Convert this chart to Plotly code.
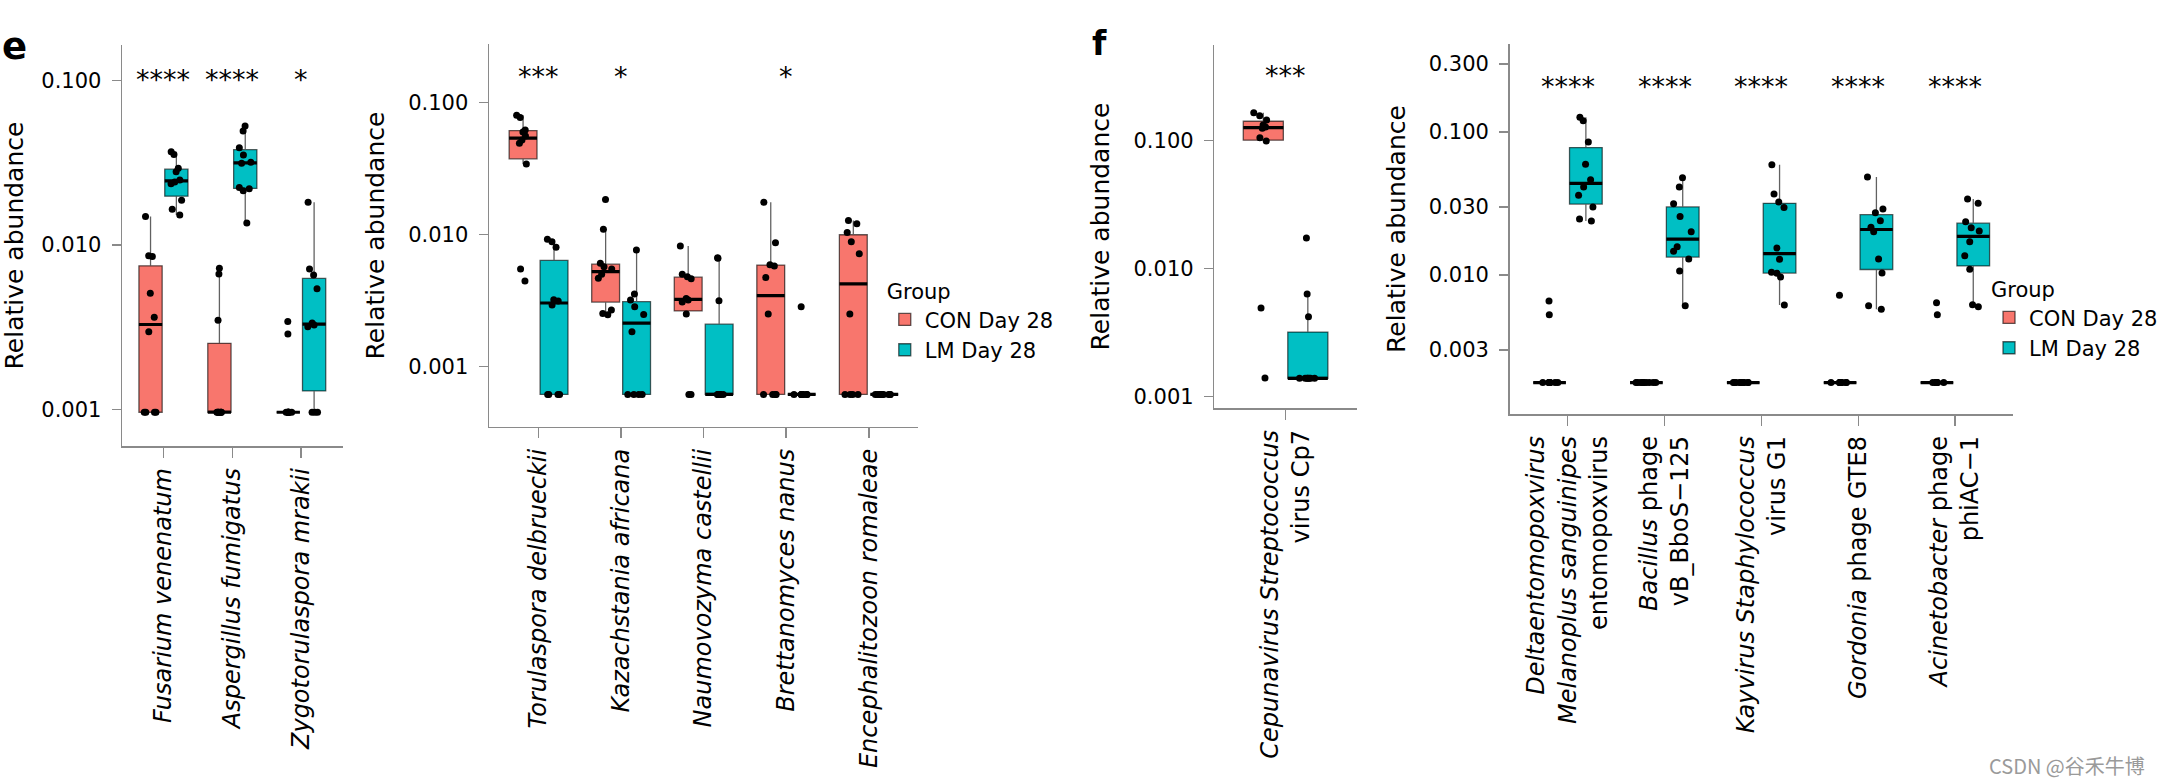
import numpy as np
import plotly.graph_objects as go

FONT = "DejaVu Sans"
CON_COLOR = "#F8766D"
LM_COLOR = "#00BFC4"
GROUPS = ["CON Day 28", "LM Day 28"]

# ---------------- data (relative abundance) ----------------
# panel e (left)
p1_keys = ["Fusarium venenatum", "Aspergillus fumigatus", "Zygotorulaspora mrakii"]
p1_labels = ["<i>Fusarium venenatum</i>", "<i>Aspergillus fumigatus</i>", "<i>Zygotorulaspora mrakii</i>"]
p1_con = [
    [0.00096, 0.00096, 0.00096, 0.00096, 0.00297, 0.00363, 0.00508, 0.0085, 0.0086, 0.0149],
    [0.00096, 0.00096, 0.00096, 0.00096, 0.00096, 0.00096, 0.00096, 0.00348, 0.00666, 0.00721],
    [0.00096, 0.00096, 0.00096, 0.00096, 0.00096, 0.00096, 0.00096, 0.00096, 0.00287, 0.00342],
]
p1_lm = [
    [0.0152, 0.0165, 0.0187, 0.0236, 0.0242, 0.0249, 0.0279, 0.0293, 0.0356, 0.0370],
    [0.0136, 0.0214, 0.0220, 0.0224, 0.0314, 0.0319, 0.0353, 0.0390, 0.0494, 0.0530],
    [0.00096, 0.00096, 0.00096, 0.00318, 0.00326, 0.00335, 0.00542, 0.00657, 0.00714, 0.0182],
]
p1_sig = ["****", "****", "*"]

# panel e (right)
p2_keys = ["Torulaspora delbrueckii", "Kazachstania africana", "Naumovozyma castellii",
           "Brettanomyces nanus", "Encephalitozoon romaleae"]
p2_labels = ["<i>Torulaspora delbrueckii</i>", "<i>Kazachstania africana</i>",
             "<i>Naumovozyma castellii</i>", "<i>Brettanomyces nanus</i>",
             "<i>Encephalitozoon romaleae</i>"]
p2_con = [
    [0.00446, 0.00549, 0.0343, 0.0492, 0.0521, 0.0559, 0.0599, 0.0621, 0.0774, 0.0802],
    [0.00248, 0.00253, 0.00269, 0.00467, 0.00501, 0.00549, 0.00572, 0.00607, 0.0110, 0.0185],
    [0.000617, 0.000617, 0.00251, 0.00309, 0.00320, 0.00328, 0.00464, 0.00481, 0.00501, 0.00821],
    [0.000617, 0.000617, 0.000617, 0.000617, 0.00251, 0.00475, 0.00580, 0.00592, 0.00870, 0.0176],
    [0.000617, 0.000617, 0.000617, 0.000617, 0.00251, 0.00718, 0.00885, 0.0104, 0.0121, 0.0128],
]
p2_lm = [
    [0.000617, 0.000617, 0.000617, 0.000617, 0.00293, 0.00315, 0.00322, 0.00802, 0.00885, 0.00922],
    [0.000617, 0.000617, 0.000617, 0.000617, 0.00184, 0.00249, 0.00285, 0.00320, 0.00355, 0.00765],
    [0.000617, 0.000617, 0.000617, 0.000617, 0.000617, 0.000617, 0.000617, 0.00316, 0.00662, 0.00669],
    [0.000617, 0.000617, 0.000617, 0.000617, 0.000617, 0.000617, 0.000617, 0.000617, 0.000617, 0.00285],
    [0.000617, 0.000617, 0.000617, 0.000617, 0.000617, 0.000617, 0.000617, 0.000617, 0.000617, 0.000617],
]
p2_sig = ["***", "*", "", "*", ""]

# panel f (left)
p3_keys = ["Cepunavirus Streptococcus virus Cp7"]
p3_labels = ["<i>Cepunavirus Streptococcus</i><br>virus Cp7"]
p3_con = [[0.00140, 0.00492, 0.0988, 0.1049, 0.1241, 0.1270, 0.1317, 0.1441, 0.1558, 0.1643]]
p3_lm = [[0.00139, 0.00139, 0.00139, 0.00139, 0.00139, 0.00139, 0.00139, 0.00421, 0.00632, 0.0173]]
p3_sig = ["***"]

# panel f (right)
p4_keys = ["Deltaentomopoxvirus", "Bacillus phage vB_BboS-125", "Kayvirus Staphylococcus virus G1",
           "Gordonia phage GTE8", "Acinetobacter phage phiAC-1"]
p4_labels = ["<i>Deltaentomopoxvirus</i><br><i>Melanoplus sanguinipes</i><br>entomopoxvirus",
             "<i>Bacillus</i> phage<br>vB_BboS\u2212125",
             "<i>Kayvirus Staphylococcus</i><br>virus G1",
             "<i>Gordonia</i> phage GTE8",
             "<i>Acinetobacter</i> phage<br>phiAC\u22121"]
p4_con = [
    [0.00177] * 8 + [0.00528, 0.00658],
    [0.00177] * 10,
    [0.00177] * 10,
    [0.00177] * 9 + [0.00721],
    [0.00177] * 8 + [0.00528, 0.00640],
]
p4_lm = [
    [0.0239, 0.0246, 0.0299, 0.0361, 0.0412, 0.0464, 0.0594, 0.0851, 0.1200, 0.1266],
    [0.0061, 0.01066, 0.01294, 0.01463, 0.01578, 0.0201, 0.0256, 0.0315, 0.0412, 0.0479],
    [0.00617, 0.00968, 0.01027, 0.01044, 0.01287, 0.01544, 0.0297, 0.0324, 0.0368, 0.0591],
    [0.00575, 0.0061, 0.01033, 0.01294, 0.0201, 0.02154, 0.0240, 0.0273, 0.0289, 0.0485],
    [0.0060, 0.0062, 0.01095, 0.01365, 0.0171, 0.0203, 0.0214, 0.0236, 0.0317, 0.0340],
]
p4_sig = ["****", "****", "****", "****", "****"]

yticks_a = [0.001, 0.01, 0.1]
yticks_b = [0.003, 0.01, 0.03, 0.1, 0.3]

# ---------------- layout geometry (pixels) ----------------
W, H = 2163, 783
panels = [
    dict(keys=p1_keys, labels=p1_labels, con=p1_con, lm=p1_lm, sig=p1_sig, yticks=yticks_a,
         px=(122.3, 343.0), py=(45.0, 446.0), yr=(-3.223, -0.783), sigy=-0.99, legend=None),
    dict(keys=p2_keys, labels=p2_labels, con=p2_con, lm=p2_lm, sig=p2_sig, yticks=yticks_a,
         px=(489.7, 919.6), py=(44.3, 426.7), yr=(-3.4545, -0.5576), sigy=-0.798, legend="legend"),
    dict(keys=p3_keys, labels=p3_labels, con=p3_con, lm=p3_lm, sig=p3_sig, yticks=yticks_a,
         px=(1216.0, 1358.7), py=(45.0, 408.0), yr=(-3.0884, -0.2562), sigy=-0.493, legend=None),
    dict(keys=p4_keys, labels=p4_labels, con=p4_con, lm=p4_lm, sig=p4_sig, yticks=yticks_b,
         px=(1511.7, 2016.0), py=(44.0, 414.0), yr=(-2.972, -0.3846), sigy=-0.68, legend="legend2"),
]


def box_stats(vals):
    v = np.log10(np.asarray(vals, dtype=float))
    q1, med, q3 = np.percentile(v, [25, 50, 75])
    iqr = q3 - q1
    lo = v[v >= q1 - 1.5 * iqr].min()
    hi = v[v <= q3 + 1.5 * iqr].max()
    return q1, med, q3, lo, hi


fig = go.Figure()
AXIS_GREY = "#8a8a8a"
annotations = []

for i, p in enumerate(panels):
    n = i + 1
    xa = "x" if n == 1 else f"x{n}"
    ya = "y" if n == 1 else f"y{n}"
    ag = f"panel{n}"
    for gname, color, data in [(GROUPS[0], CON_COLOR, p["con"]), (GROUPS[1], LM_COLOR, p["lm"])]:
        st = np.array([box_stats(v) for v in data])
        show_leg = p["legend"] is not None
        kw = dict(xaxis=xa, yaxis=ya, offsetgroup=gname, alignmentgroup=ag, hoverinfo="skip")
        # main box
        fig.add_trace(go.Box(
            x=p["keys"], q1=st[:, 0], median=st[:, 1], q3=st[:, 2],
            lowerfence=st[:, 3], upperfence=st[:, 4],
            name=gname, fillcolor=color, line=dict(color="rgba(0,0,0,0.62)", width=1.3),
            whiskerwidth=0, boxpoints=False, showlegend=show_leg,
            legend=p["legend"] if show_leg else "legend", **kw))
        # thick median
        fig.add_trace(go.Box(
            x=p["keys"], q1=st[:, 1], median=st[:, 1], q3=st[:, 1],
            lowerfence=st[:, 1], upperfence=st[:, 1],
            name=gname, fillcolor="rgba(0,0,0,0)", line=dict(color="black", width=3.2),
            whiskerwidth=0, boxpoints=False, showlegend=False, **kw))
        # jittered points
        xs, ys = [], []
        for k, v in zip(p["keys"], data):
            xs += [k] * len(v)
            ys += list(np.log10(v))
        fig.add_trace(go.Box(
            x=xs, y=ys, name=gname, boxpoints="all", jitter=0.65, pointpos=0,
            fillcolor="rgba(0,0,0,0)", line=dict(color="rgba(0,0,0,0)", width=0),
            marker=dict(color="black", size=7), showlegend=False, **kw))

    x0, x1 = p["px"]
    y0, y1 = p["py"]
    ncat = len(p["keys"])
    xkey = "xaxis" if n == 1 else f"xaxis{n}"
    ykey = "yaxis" if n == 1 else f"yaxis{n}"
    fig.update_layout(**{
        xkey: dict(domain=[x0 / W, x1 / W], anchor=ya, type="category",
                   categoryorder="array", categoryarray=p["keys"],
                   range=[-0.6, ncat - 1 + 0.6], tickvals=p["keys"], ticktext=p["labels"],
                   tickangle=-90, showline=True, linecolor=AXIS_GREY, linewidth=1.5,
                   ticks="outside", ticklen=10, tickwidth=1.5, tickcolor=AXIS_GREY,
                   tickfont=dict(family=FONT, size=24, color="black"), ticklabelstandoff=1,
                   showgrid=False, zeroline=False, fixedrange=True),
        ykey: dict(domain=[1 - y1 / H, 1 - y0 / H], anchor=xa, type="linear",
                   range=list(p["yr"]), tickvals=list(np.log10(p["yticks"])),
                   ticktext=[f"{t:.3f}" for t in p["yticks"]],
                   showline=True, linecolor=AXIS_GREY, linewidth=1.5,
                   ticks="outside", ticklen=9, tickwidth=1.5, tickcolor=AXIS_GREY,
                   tickfont=dict(family=FONT, size=21, color="black"), ticklabelstandoff=6,
                   title=dict(text="Relative abundance", font=dict(family=FONT, size=25, color="black"),
                              standoff=16),
                   showgrid=False, zeroline=False, fixedrange=True),
    })
    for k, s in zip(p["keys"], p["sig"]):
        if s:
            annotations.append(dict(x=k, y=p["sigy"], xref=xa, yref=ya, text=s, showarrow=False,
                                    xanchor="center", yanchor="middle",
                                    font=dict(family=FONT, size=27, color="black")))

annotations += [
    dict(x=0 / W, y=1 - 23 / H, xref="paper", yref="paper", text="<b>e</b>", showarrow=False,
         xanchor="left", yanchor="top", font=dict(family=FONT, size=37, color="black")),
    dict(x=1092 / W, y=1 - 22 / H, xref="paper", yref="paper", text="<b>f</b>", showarrow=False,
         xanchor="left", yanchor="top", font=dict(family=FONT, size=33, color="black")),
    dict(x=2150 / W, y=1 - 765 / H, xref="paper", yref="paper", text="CSDN @谷禾牛博",
         showarrow=False, xanchor="right", yanchor="middle",
         font=dict(family="Noto Sans CJK SC", size=20, color="#9a9a9a")),
]

leg_common = dict(title=dict(text="Group", font=dict(family=FONT, size=21, color="black")),
                  font=dict(family=FONT, size=21, color="black"), bgcolor="rgba(0,0,0,0)",
                  borderwidth=0, xanchor="left", yanchor="top", itemclick=False,
                  itemdoubleclick=False, tracegroupgap=0)

fig.update_layout(
    width=W, height=H, margin=dict(l=0, r=0, t=0, b=0),
    paper_bgcolor="white", plot_bgcolor="white",
    font=dict(family=FONT, color="black"),
    boxmode="group", boxgap=0.25, boxgroupgap=0.1,
    annotations=annotations,
    legend=dict(x=886 / W, y=1 - 272 / H, **leg_common),
    legend2=dict(x=1992 / W, y=1 - 270 / H, **leg_common),
)

fig.write_html("out.html", config={"displayModeBar": False, "staticPlot": True},
               post_script="document.body.style.margin='0';")
